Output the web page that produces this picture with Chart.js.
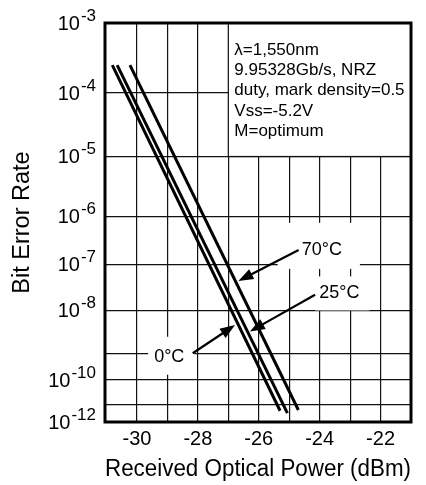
<!DOCTYPE html>
<html>
<head>
<meta charset="utf-8">
<script src="https://cdn.jsdelivr.net/npm/chart.js@4"></script>
<style>
  html, body { margin: 0; padding: 0; background: #fff; }
  #wrap { width: 426px; height: 485px; }
</style>
</head>
<body>
<div id="wrap"><canvas id="berChart" width="426" height="485"></canvas></div>
<script>
// 受光パワー vs ビット誤り率
const seriesNames = ["0°C", "25°C", "70°C"];
const power0C = [-30.81, -25.30];
const ber0C = [2.5e-4, 4.6e-12];
const power25C = [-30.65, -25.06];
const ber25C = [2.5e-4, 3.3e-12];
const power70C = [-30.23, -24.70];
const ber70C = [2.5e-4, 5.1e-12];

const xTicks = [-30, -29, -28, -27, -26, -25, -24, -23, -22];
const yDecades = [-3, -4, -5, -6, -7, -8, -9, -10, -11, -12];
const yLabeled = [-3, -4, -5, -6, -7, -8, -10, -12];
// where each decade sits on the (non-uniform) BER axis, 0 = top, 1 = bottom
const yDecadeStops = [0, 0.1756, 0.3346, 0.4851, 0.6045, 0.7208, 0.8277, 0.8947, 0.9574, 1];

const conditions = ["λ=1,550nm", "9.95328Gb/s, NRZ", "duty, mark density=0.5", "Vss=-5.2V", "M=optimum"];

// label centre / arrow start / arrow tip, in (dBm, log10 BER)
const tempNotes = [
  { text: "70°C", at: [-23.93, -6.70], from: [-24.69, -6.70], to: [-26.67, -7.36], pad: [24, 20, 18, 12] },
  { text: "25°C", at: [-23.35, -7.63], from: [-24.15, -7.66], to: [-26.29, -8.49], pad: [4, 10, 10, 10] },
  { text: "0°C", at: [-28.94, -9.13], from: [-28.17, -9.00], to: [-26.78, -8.34], pad: [6, 13, 10, 11] }
];

const FONT = '"Liberation Sans", Arial, Helvetica, sans-serif';
Chart.defaults.font.family = FONT;
Chart.defaults.color = "#000";

function expToAxis(e) {
  const n = yDecades.length;
  let i = 0;
  while (i < n - 2 && e < yDecades[i + 1]) i++;
  const t = (yDecades[i] - e) / (yDecades[i] - yDecades[i + 1]);
  return yDecadeStops[i] + t * (yDecadeStops[i + 1] - yDecadeStops[i]);
}
const berToAxis = (b) => expToAxis(Math.log10(b));

function toPoints(xs, bers) {
  return xs.map((x, i) => ({ x: x, y: berToAxis(bers[i]) }));
}

function drawArrow(ctx, x0, y0, x1, y1) {
  const a = Math.atan2(y1 - y0, x1 - x0);
  const head = 15, half = 5.5;
  const c = Math.cos(a), s = Math.sin(a);
  ctx.beginPath();
  ctx.moveTo(x0, y0);
  ctx.lineTo(x1 - c * head * 0.8, y1 - s * head * 0.8);
  ctx.stroke();
  ctx.beginPath();
  ctx.moveTo(x1, y1);
  ctx.lineTo(x1 - head * c + half * s, y1 - head * s - half * c);
  ctx.lineTo(x1 - head * c - half * s, y1 - head * s + half * c);
  ctx.closePath();
  ctx.fill();
}

const berDecor = {
  id: "berDecor",
  beforeDatasetsDraw(chart) {
    const { ctx, chartArea: area, scales: { x, y } } = chart;
    ctx.save();
    // conditions box (top right, bounded by the -27 dBm and 1e-5 grid lines)
    const bx = x.getPixelForValue(-27);
    const by = y.getPixelForValue(expToAxis(-5));
    ctx.fillStyle = "#fff";
    ctx.fillRect(bx, area.top, area.right - bx, by - area.top);
    ctx.strokeStyle = "#111";
    ctx.lineWidth = 1.2;
    ctx.strokeRect(bx, area.top, area.right - bx, by - area.top);
    ctx.fillStyle = "#000";
    ctx.font = "17px " + FONT;
    ctx.textAlign = "left";
    ctx.textBaseline = "middle";
    conditions.forEach((t, i) => ctx.fillText(t, bx + 6, area.top + 27 + i * 20.4));

    // white patches behind the temperature labels
    ctx.font = "18px " + FONT;
    tempNotes.forEach((n) => {
      const cx = x.getPixelForValue(n.at[0]);
      const cy = y.getPixelForValue(expToAxis(n.at[1]));
      const w = ctx.measureText(n.text).width;
      const [pl, pt, pr, pb] = n.pad;
      ctx.fillStyle = "#fff";
      ctx.fillRect(cx - w / 2 - pl, cy - 7 - pt, w + pl + pr, 14 + pt + pb);
    });
    ctx.restore();
  },
  afterDatasetsDraw(chart) {
    const { ctx, chartArea: area, scales: { x, y } } = chart;
    ctx.save();
    ctx.strokeStyle = "#000";
    ctx.fillStyle = "#000";
    ctx.lineWidth = 2.2;
    ctx.font = "18px " + FONT;
    ctx.textAlign = "center";
    ctx.textBaseline = "middle";
    tempNotes.forEach((n) => {
      const p = (v) => [x.getPixelForValue(v[0]), y.getPixelForValue(expToAxis(v[1]))];
      const [x0, y0] = p(n.from);
      const [x1, y1] = p(n.to);
      drawArrow(ctx, x0, y0, x1, y1);
      const [cx, cy] = p(n.at);
      ctx.fillText(n.text, cx, cy);
    });

    // frame
    ctx.lineWidth = 3;
    ctx.strokeRect(area.left, area.top, area.right - area.left, area.bottom - area.top);

    // y labels 10^-n
    ctx.textAlign = "left";
    const right = 96;
    yLabeled.forEach((e) => {
      const py = y.getPixelForValue(expToAxis(e));
      const sup = "-" + Math.abs(e);
      ctx.font = "17px " + FONT;
      const ws = ctx.measureText(sup).width;
      ctx.font = "20px " + FONT;
      const wb = ctx.measureText("10").width;
      const x0 = right - ws - wb - 1;
      ctx.fillText("10", x0, py + 1);
      ctx.font = "17px " + FONT;
      ctx.fillText(sup, x0 + wb + 1, py - 7);
    });
    ctx.restore();
  }
};

const lineStyle = {
  borderColor: "#000",
  borderWidth: 3,
  pointRadius: 0,
  tension: 0,
  fill: false
};

new Chart(document.getElementById("berChart"), {
  type: "line",
  data: {
    datasets: [
      Object.assign({ label: seriesNames[0], data: toPoints(power0C, ber0C) }, lineStyle),
      Object.assign({ label: seriesNames[1], data: toPoints(power25C, ber25C) }, lineStyle),
      Object.assign({ label: seriesNames[2], data: toPoints(power70C, ber70C) }, lineStyle)
    ]
  },
  options: {
    responsive: false,
    animation: false,
    layout: { padding: { top: 23, right: 15, left: 0, bottom: 0 } },
    plugins: { legend: { display: false }, tooltip: { enabled: false } },
    scales: {
      x: {
        type: "linear",
        min: -31.05,
        max: -21,
        afterBuildTicks: (s) => { s.ticks = xTicks.map((v) => ({ value: v })); },
        afterFit: (s) => { s.height = 63; },
        ticks: {
          autoSkip: false,
          maxRotation: 0,
          padding: 5,
          font: { size: 20 },
          color: "#000",
          callback: (v) => (v % 2 === 0 ? String(v) : "")
        },
        grid: { color: "#111", lineWidth: 1.2, drawTicks: false },
        border: { display: false },
        title: {
          display: true,
          text: "Received Optical Power (dBm)",
          font: { size: 23.5 },
          color: "#000",
          padding: { top: 0, bottom: 1 }
        }
      },
      y: {
        type: "linear",
        reverse: true,
        min: 0,
        max: 1,
        afterBuildTicks: (s) => { s.ticks = yDecadeStops.map((v) => ({ value: v })); },
        afterFit: (s) => { s.width = 105; },
        ticks: { display: false },
        grid: { color: "#111", lineWidth: 1.2, drawTicks: false },
        border: { display: false },
        title: {
          display: true,
          text: "Bit Error Rate",
          font: { size: 23.5 },
          color: "#000",
          padding: { top: 8, bottom: 0 }
        }
      }
    }
  },
  plugins: [berDecor]
});
</script>
</body>
</html>
